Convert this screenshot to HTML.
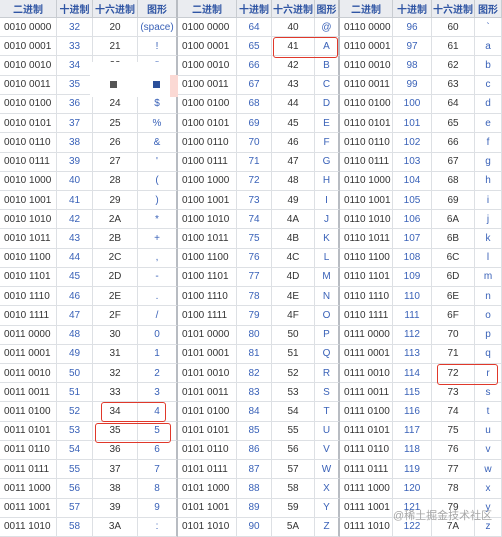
<!DOCTYPE html>
<html><head><meta charset="utf-8"><style>
body{margin:0;width:502px;height:537px;overflow:hidden;background:#fff;font-family:"Liberation Sans","Noto Sans CJK SC",sans-serif;position:relative}
.c{position:absolute;box-sizing:border-box;border-right:1px solid #dde0e4;border-bottom:1px solid #dde0e4;font-size:10px;display:flex;align-items:center;justify-content:center;color:#333;background:#fff}
.h{background:#eaecf0;color:#2f55a4;font-weight:bold;border-color:#c8ccd1}
.b{justify-content:flex-start;padding-left:4px}
.bl{color:#3a62b8}
.g{border-right:2px solid #b8bcc2}
.box{position:absolute;border:1.5px solid #e0382a;border-radius:3px;box-sizing:border-box}
</style></head><body>
<div id="t"></div>
<script>
const groupStarts=[32,64,96];
const rowCount=27;
const headers=["二进制","十进制","十六进制","图形"];
const cols=[[0,57,93,138,178],[178,237,272,315,340],[340,393,432,475,502]];
const headH=18, rowH=(537-18)/27;
const t=document.getElementById('t');
function cell(x,y,w,h,txt,cls,name){
  const d=document.createElement('div');
  d.className='c '+cls;
  d.style.left=x+'px';d.style.top=y+'px';d.style.width=w+'px';d.style.height=h+'px';
  d.textContent=txt;
  
  
  t.appendChild(d);
}
groupStarts.forEach((s,gi)=>{
  const cx=cols[gi];
  headers.forEach((h,ci)=>{
    cell(cx[ci],0,cx[ci+1]-cx[ci],headH,h,'h'+(ci==3&&gi<2?' g':''),'header-'+(ci+1));
  });
  for(let r=0;r<rowCount;r++){
    const code=s+r,y=headH+r*rowH;
    const bin=code.toString(2).padStart(8,'0');
    const vals=[bin.slice(0,4)+' '+bin.slice(4),String(code),code.toString(16).toUpperCase(),code===32?'(space)':String.fromCharCode(code)];
    vals.forEach((v,ci)=>{
      let cls=ci==0?'b':(ci==1||ci==3?'bl':'');
      if(ci==3&&gi<2)cls+=' g';
      cell(cx[ci],y,cx[ci+1]-cx[ci],rowH,v,cls,'cell-'+code+'-'+ci);
    });
  }
});
</script>
<div style="position:absolute;left:90px;top:62px;width:80px;height:35px;background:#fff"></div>
<div style="position:absolute;left:110px;top:81px;width:7px;height:7px;background:#555"></div>
<div style="position:absolute;left:153px;top:81px;width:7px;height:7px;background:#2b4f9a"></div>
<div style="position:absolute;left:170px;top:75px;width:8px;height:22px;background:#fbd9d4"></div>
<div class="box" style="left:273px;top:37px;width:65px;height:21px"></div>
<div class="box" style="left:101px;top:402px;width:65px;height:20px"></div>
<div class="box" style="left:95px;top:423px;width:76px;height:20px"></div>
<div class="box" style="left:437px;top:364px;width:61px;height:21px"></div>
<div style="position:absolute;left:393px;top:507px;font-size:11px;color:rgba(150,150,150,0.85)">@稀土掘金技术社区</div>
</body></html>
